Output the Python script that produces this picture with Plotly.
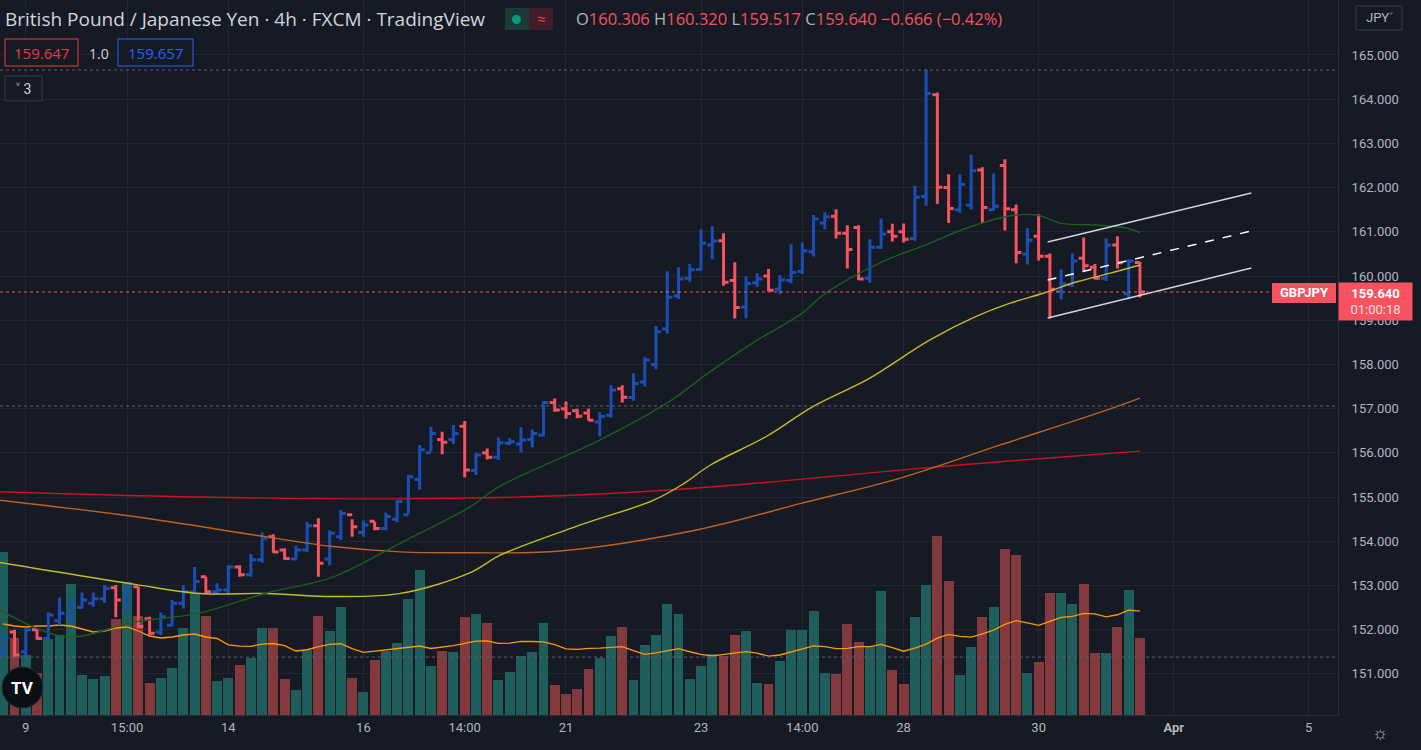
import pandas as pd
import plotly.graph_objects as go

# --- OHLC (4h bars, GBPJPY) ---
opens = [151.5, 151.95, 151.5, 152.0, 151.8, 152.2, 152.3, 152.5, 152.6, 152.7,
         152.95, 152.7, 152.97, 152.25, 151.95, 152.1, 152.6, 152.86, 153.2, 152.86,
         152.9, 153.42, 153.24, 153.58, 154.1, 153.8, 153.6, 153.8, 154.35, 153.6,
         154.1, 154.6, 154.2, 154.45, 154.29, 154.5, 154.6, 155.4, 156.0, 156.3,
         156.3, 156.6, 155.6, 156.0, 155.9, 156.22, 156.2, 156.3, 156.4, 157.14,
         157.0, 156.95, 156.9, 156.7, 156.85, 157.45, 157.25, 157.6, 158.0, 158.8,
         159.55, 159.95, 160.15, 160.7, 160.8, 159.9, 159.3, 159.85, 160.0, 159.7,
         159.9, 160.1, 160.55, 161.2, 161.35, 160.97, 161.1, 159.95, 160.65, 161.0,
         161.0, 160.85, 161.8, 164.1, 162.0, 161.5, 161.6, 162.4, 161.5, 162.5,
         161.5, 160.5, 160.9, 160.45, 159.65, 159.8, 160.4, 160.2, 159.95, 160.7,
         159.6, 160.306]
highs = [151.88, 152.0, 152.03, 152.03, 152.39, 152.73, 152.67, 152.84, 152.84, 153.01,
         153.01, 153.01, 152.97, 152.29, 152.39, 152.67, 153.01, 153.42, 153.2, 153.05,
         153.46, 153.46, 153.71, 154.2, 154.16, 153.84, 153.9, 154.44, 154.52, 154.25,
         154.71, 154.5, 154.47, 154.44, 154.65, 154.93, 155.5, 156.18, 156.59, 156.48,
         156.63, 156.72, 156.01, 156.1, 156.35, 156.33, 156.58, 156.53, 157.17, 157.23,
         157.16, 157.0, 157.0, 156.92, 157.53, 157.53, 157.8, 158.16, 158.87, 160.11,
         160.2, 160.27, 161.06, 161.13, 160.97, 160.31, 159.99, 160.06, 160.16, 160.02,
         160.72, 160.76, 161.38, 161.44, 161.51, 161.15, 161.15, 160.83, 161.3, 161.18,
         161.19, 162.04, 164.68, 164.15, 162.3, 162.3, 162.75, 162.46, 162.32, 162.64,
         161.62, 161.08, 161.4, 160.51, 160.15, 160.51, 160.87, 160.27, 160.85, 160.9,
         160.38, 160.32]
lows = [151.39, 151.39, 151.39, 151.77, 151.78, 152.1, 152.14, 152.48, 152.52, 152.61,
        152.28, 152.41, 152.03, 151.88, 151.88, 152.07, 152.48, 152.82, 152.82, 152.79,
        152.82, 153.2, 153.2, 153.52, 153.74, 153.58, 153.59, 153.76, 153.2, 153.45,
        154.03, 154.1, 154.1, 154.25, 154.25, 154.43, 154.63, 155.17, 156.03, 155.97,
        156.2, 155.45, 155.5, 155.85, 155.84, 156.18, 156.0, 156.12, 156.37, 156.93,
        156.77, 156.78, 156.73, 156.37, 156.8, 157.14, 157.18, 157.5, 157.89, 158.7,
        159.48, 159.87, 160.12, 160.38, 159.78, 159.04, 159.04, 159.76, 159.65, 159.59,
        159.83, 160.05, 160.44, 161.06, 160.85, 160.17, 159.91, 159.85, 160.61, 160.78,
        160.76, 160.8, 161.59, 161.63, 161.2, 161.43, 161.51, 161.2, 161.48, 161.03,
        160.29, 160.26, 160.35, 159.04, 159.47, 159.76, 160.1, 159.92, 159.89, 160.17,
        159.47, 159.517]
closes = [151.8, 151.43, 152.0, 151.8, 152.33, 152.37, 152.63, 152.67, 152.7, 152.93,
          152.67, 152.97, 152.07, 151.92, 152.29, 152.6, 152.86, 153.09, 152.86, 152.9,
          153.42, 153.24, 153.58, 154.07, 153.76, 153.61, 153.8, 154.35, 153.5, 154.18,
          154.63, 154.33, 154.37, 154.29, 154.56, 154.9, 155.46, 156.07, 156.44, 156.24,
          156.44, 155.61, 155.95, 155.9, 156.23, 156.25, 156.29, 156.44, 157.14, 156.97,
          156.89, 156.83, 156.74, 156.82, 157.42, 157.26, 157.57, 158.1, 158.74, 159.52,
          159.93, 160.14, 160.74, 160.79, 159.86, 159.29, 159.83, 159.93, 159.68, 159.91,
          160.08, 160.57, 161.29, 161.34, 160.97, 160.6, 159.93, 160.65, 160.95, 160.9,
          160.83, 161.78, 164.13, 162.01, 161.53, 162.07, 162.38, 161.55, 161.58, 161.52,
          160.53, 160.81, 160.45, 159.7, 159.82, 160.34, 160.23, 159.95, 160.7, 160.3,
          160.34, 159.64]
volumes = [163, 77, 60, 42, 76, 80, 131, 40, 36, 39,
           96, 133, 99, 32, 37, 47, 87, 122, 99, 34,
           37, 50, 57, 87, 87, 36, 25, 65, 99, 84,
           108, 37, 23, 55, 64, 72, 116, 145, 49, 64,
           63, 98, 101, 92, 35, 43, 59, 63, 92, 30,
           21, 26, 46, 57, 79, 88, 35, 70, 80, 111,
           101, 36, 49, 61, 59, 80, 84, 32, 31, 54,
           85, 85, 104, 42, 41, 91, 73, 69, 124, 45,
           31, 98, 130, 179, 134, 40, 68, 98, 108, 166,
           160, 42, 53, 122, 122, 111, 131, 62, 62, 88,
           125, 77]
# volume MA before 20 bars of history are on screen
vol_ma_head = [91, 89, 88, 89, 89, 90, 89, 86, 83, 84, 87, 88, 84, 79, 77, 78, 80, 81, 78]

# --- price moving averages (bar index, value) ---
ma_green_x = [-0.3, 5.6, 11.6, 17.5, 23.4, 29.3, 35.3, 41.5, 44.1, 53, 59, 63, 67, 71, 73, 77.9,
              81.9, 86, 90, 92, 94, 97.5, 99.9, 101]
ma_green_y = [152.45, 151.84, 152.17, 152.38, 152.83, 153.19, 153.96, 154.78, 155.24, 156.29,
              157.13, 157.87, 158.55, 159.16, 159.6, 160.3, 160.7, 161.12, 161.38, 161.37,
              161.19, 161.15, 161.08, 160.98]
ma_yellow_x = [-0.3, 11.6, 17.5, 23.4, 29.3, 35.3, 41.5, 44.2, 51.3, 57.8, 60.5, 62.8, 67.8,
               71.9, 77, 82.3, 86.4, 89.4, 92.4, 95.4, 98.3, 101]
ma_yellow_y = [153.52, 153.03, 152.82, 152.82, 152.75, 152.82, 153.29, 153.69, 154.37, 154.93,
               155.31, 155.72, 156.37, 157.04, 157.69, 158.55, 159.08, 159.38, 159.61, 159.87,
               160.06, 160.25]
ma_orange_x = [-0.3, 11.6, 23.4, 29.3, 35.3, 41.5, 49.5, 61.7, 70.8, 79.7, 88.6, 97.5, 101]
ma_orange_y = [154.93, 154.56, 154.1, 153.88, 153.76, 153.74, 153.78, 154.26, 154.85, 155.43,
               156.18, 156.92, 157.24]
ma_red_x = [-0.3, 17.5, 35.3, 49.5, 62, 79.7, 88.6, 101]
ma_red_y = [155.12, 155.0, 154.96, 155.03, 155.21, 155.61, 155.8, 156.04]

# parallel channel drawn on the chart
chan_x = [92.8, 110.9]
chan_upper = [160.77, 161.88]
chan_mid = [159.91, 161.02]
chan_lower = [159.05, 160.18]

tick_idx = [2, 11, 20, 32, 41, 50, 62, 71, 80, 92, 104, 116]
tick_txt = ["9", "15:00", "14", "16", "14:00", "21", "23", "14:00", "28", "30", "<b>Apr</b>", "5"]
price_ticks = list(range(151, 166))

BG = "#161a25"
GRID = "#222631"
TXT = "#b2b5be"
UP = "#1c4fb5"
DN = "#f7525f"
HEAD_FONT = "Open Sans"
W, H = 1338, 715


def px(x):
    return x / W


def py(y):
    return 1 - y / H


idx = list(range(len(opens)))
df = pd.DataFrame({"o": opens, "h": highs, "l": lows, "c": closes, "v": volumes}, index=idx)
vol_ma = df["v"].rolling(20).mean()
vol_ma.iloc[:len(vol_ma_head)] = vol_ma_head
vol_col = ["#1f5e5b" if c >= o else "#823a3f" for o, c in zip(opens, closes)]

fig = go.Figure()

fig.add_trace(go.Bar(x=idx, y=volumes, marker_color=vol_col, marker_line_width=0,
                     width=0.88, yaxis="y"))
fig.add_trace(go.Scatter(x=idx, y=vol_ma, mode="lines", line=dict(color="#ff9800", width=1.3),
                         yaxis="y"))

for xs, ys, col in [(ma_red_x, ma_red_y, "#c8141c"), (ma_orange_x, ma_orange_y, "#c2611a"),
                    (ma_yellow_x, ma_yellow_y, "#c2bd22"), (ma_green_x, ma_green_y, "#1b5e20")]:
    fig.add_trace(go.Scatter(x=xs, y=ys, mode="lines", line=dict(color=col, width=1.4, shape="spline"),
                             yaxis="y2"))

for ys, dash in [(chan_upper, "solid"), (chan_mid, "dash"), (chan_lower, "solid")]:
    fig.add_trace(go.Scatter(x=chan_x, y=ys, mode="lines", yaxis="y2",
                             line=dict(color="#d1d4dc" if dash == "solid" else "#ffffff",
                                       width=1.5, dash=dash)))

fig.add_trace(go.Ohlc(x=idx, open=opens, high=highs, low=lows, close=closes, yaxis="y2",
                      tickwidth=0.45,
                      increasing=dict(line=dict(color=UP, width=3)),
                      decreasing=dict(line=dict(color=DN, width=3))))

# dotted horizontal levels
for lvl, col in [(164.66, "#5d606b"), (157.06, "#5d606b"), (151.38, "#5d606b"), (159.64, DN)]:
    fig.add_shape(type="line", xref="paper", yref="y2", x0=0, x1=1, y0=lvl, y1=lvl,
                  line=dict(color=col, width=1, dash="dot"))

shapes = [
    # header boxes
    dict(x0=5, x1=78, y0=39, y1=66, line=dict(color="#f23645", width=1), fillcolor=BG),
    dict(x0=118, x1=193, y0=39, y1=66, line=dict(color="#2962ff", width=1), fillcolor=BG),
    dict(x0=5, x1=42, y0=76, y1=101, line=dict(color="#363a45", width=1), fillcolor=BG),
    dict(x0=505, x1=529, y0=8, y1=30, line=dict(width=0), fillcolor="#1d3b36"),
    dict(x0=529, x1=553, y0=8, y1=30, line=dict(width=0), fillcolor="#3f1d2d"),
    # symbol label left of the price scale
    dict(x0=1272, x1=1336, y0=283, y1=303, line=dict(width=0), fillcolor=DN),
    dict(x0=1356, x1=1402, y0=6, y1=30, line=dict(color="#363a45", width=1), fillcolor=BG),
]
for s in shapes:
    fig.add_shape(type="rect", xref="paper", yref="paper", x0=px(s["x0"]), x1=px(s["x1"]),
                  y0=py(s["y1"]), y1=py(s["y0"]), line=s["line"], fillcolor=s["fillcolor"], layer="above")
fig.add_shape(type="circle", xref="paper", yref="paper", x0=px(512), x1=px(521), y0=py(24), y1=py(15),
              fillcolor="#089981", line_width=0)
fig.add_shape(type="circle", xref="paper", yref="paper", x0=px(2), x1=px(43), y0=py(708), y1=py(667),
              fillcolor="#0b0e14", line=dict(color="#2a2e39", width=1), layer="above")


def note(x, y, text, size=13, color=TXT, anchor="left", family=None, **kw):
    f = dict(size=size, color=color)
    if family:
        f["family"] = family
    fig.add_annotation(xref="paper", yref="paper", x=px(x), y=py(y), text=text, showarrow=False,
                       xanchor=anchor, yanchor="middle", font=f, **kw)


note(3, 19, "British Pound / Japanese Yen · 4h · FXCM · TradingView", size=19, color="#d1d4dc",
     family=HEAD_FONT)
note(541, 19, "≈", size=15, color="#f23645", anchor="center")
r = f"<span style='color:{DN}'>"
note(574, 19, f"O{r}160.306</span> H{r}160.320</span> L{r}159.517</span> C{r}159.640</span> "
     f"{r}−0.666 (−0.42%)</span>", size=16.5, color=TXT, family=HEAD_FONT)
note(41, 53, "159.647", size=15, color="#f23645", anchor="center", family=HEAD_FONT)
note(99, 53, "1.0", size=14, color="#d1d4dc", anchor="center", family=HEAD_FONT)
note(155, 53, "159.657", size=15, color="#2962ff", anchor="center", family=HEAD_FONT)
note(23, 89, "˅ 3", size=14, color="#d1d4dc", anchor="center")
note(22, 688, "<b>TV</b>", size=17, color="white", anchor="center")
note(1304, 293, "<b>GBPJPY</b>", size=13, color="white", anchor="center")
# last price label on the scale (annotation so it covers the tick label)
note(1338, 301.5, "<b>159.640</b><br><span style='color:#fbe0e2'>01:00:18</span>", size=13,
     color="white", anchor="left", bgcolor=DN, width=69, height=33, borderpad=2, align="center")
note(1379, 18, "JPY˅", size=13, color=TXT, anchor="center")
note(1380, 732, "☼", size=18, color=TXT, anchor="center")

fig.update_layout(
    width=1421, height=750,
    margin=dict(l=0, r=83, t=0, b=35, autoexpand=False),
    paper_bgcolor=BG, plot_bgcolor=BG,
    showlegend=False,
    font=dict(family="Roboto, Noto Sans, sans-serif", color=TXT, size=13),
    bargap=0,
    xaxis=dict(range=[-0.29, 118.6], tickvals=tick_idx, ticktext=tick_txt, showgrid=True,
               gridcolor=GRID, zeroline=False, showline=True, linecolor="#2a2e39", ticks="",
               rangeslider=dict(visible=False), tickfont=dict(size=13, color=TXT)),
    yaxis=dict(range=[0, 715], visible=False, fixedrange=True),
    yaxis2=dict(range=[150.07, 166.244], overlaying="y", side="right", tickvals=price_ticks,
                ticktext=[f"{p}.000" for p in price_ticks], showgrid=True, gridcolor=GRID,
                zeroline=False, showline=True, linecolor="#2a2e39", ticks="",
                ticklabelstandoff=10, tickfont=dict(size=13, color=TXT)),
)

fig.write_html("out.html", config={"displayModeBar": False},
               post_script="document.body.style.margin='0px';")
